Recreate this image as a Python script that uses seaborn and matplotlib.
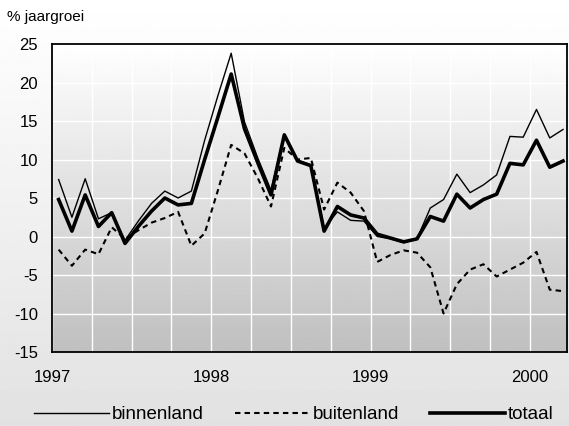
import numpy as np
import pandas as pd
import matplotlib
matplotlib.use('Agg')
import matplotlib.pyplot as plt
import seaborn as sns

plt.rcParams['font.family'] = ['Liberation Sans', 'DejaVu Sans']
plt.rcParams['axes.unicode_minus'] = False

# jaargroei per maand, jan 1997 t/m mrt 2000
jaren = ['1997', '1998', '1999', '2000']
binnenland = [7.4, 2.5, 7.5, 2.3, 3.1, -0.5, 2.0, 4.3, 5.9, 5.0, 5.9, 12.5,
              18.3, 23.8, 14.9, 10.2, 6.0, 13.2, 9.9, 9.3, 1.1, 3.2, 2.1, 2.0,
              0.0, -0.3, -0.8, -0.3, 3.7, 4.8, 8.1, 5.7, 6.7, 8.0, 13.0, 12.9,
              16.5, 12.8, 13.9]
buitenland = [-1.7, -3.8, -1.7, -2.3, 1.2, -0.3, 0.8, 1.8, 2.4, 3.2, -1.2, 0.4,
              6.0, 11.9, 10.8, 7.6, 3.9, 11.5, 10.0, 10.2, 3.5, 7.0, 5.7, 3.3,
              -3.3, -2.4, -1.8, -2.1, -4.0, -10.0, -6.2, -4.3, -3.6, -5.2, -4.3, -3.4,
              -2.0, -6.9, -7.1]
totaal = [4.8, 0.7, 5.4, 1.3, 3.1, -0.9, 1.3, 3.3, 5.0, 4.1, 4.3, 10.0,
          15.5, 21.1, 14.0, 9.6, 5.4, 13.2, 9.8, 9.2, 0.7, 3.9, 2.8, 2.4,
          0.3, -0.2, -0.7, -0.3, 2.6, 2.0, 5.5, 3.7, 4.8, 5.5, 9.5, 9.3,
          12.5, 9.0, 9.8]

# midden van elke maand
maand = np.arange(len(totaal)) + 0.5
df = pd.DataFrame({'maand': maand, 'binnenland': binnenland,
                   'buitenland': buitenland, 'totaal': totaal})

fig = plt.figure(figsize=(5.69, 4.26), dpi=100)

# lichtgrijze achtergrond met verloop
bg = fig.add_axes([0, 0, 1, 1], zorder=-10)
bg.imshow(np.linspace(1.0, 0.885, 256).reshape(-1, 1), cmap='gray', vmin=0, vmax=1,
          aspect='auto', extent=(0, 1, 0, 1))
bg.axis('off')

ax = fig.add_axes([0.0914, 0.1737, 0.9051, 0.7230])
ax.imshow(np.linspace(1.0, 0.75, 256).reshape(-1, 1), cmap='gray', vmin=0, vmax=1,
          aspect='auto', extent=(0, 1, 0, 1), transform=ax.transAxes, zorder=0)

sns.lineplot(data=df, x='maand', y='binnenland', ax=ax, color='black', lw=1.0,
             label='binnenland', zorder=3)
sns.lineplot(data=df, x='maand', y='buitenland', ax=ax, color='black', lw=1.5,
             linestyle=(0, (2.6, 2)), label='buitenland', zorder=3)
sns.lineplot(data=df, x='maand', y='totaal', ax=ax, color='black', lw=2.6,
             label='totaal', zorder=4)

ax.set_xlim(0, 38.8)
ax.set_ylim(-15, 25)
ax.set_xticks([0, 12, 24, 36], jaren)
ax.set_xticks(np.arange(0, 39, 3), minor=True)
ax.set_yticks(np.arange(-15, 26, 5))
ax.grid(True, which='both', axis='x', color='white', lw=1)
ax.grid(True, which='major', axis='y', color='white', lw=1)
ax.tick_params(which='both', length=0, labelsize=12)
ax.tick_params(axis='y', pad=10)
ax.tick_params(axis='x', pad=13)
ax.set_xlabel('')
ax.set_ylabel('')
for s in ax.spines.values():
    s.set_color('black')
    s.set_linewidth(1.3)

handles, labels = ax.get_legend_handles_labels()
ax.get_legend().remove()
fig.legend(handles, labels, loc='lower center', bbox_to_anchor=(0.516, -0.024), ncol=3,
           frameon=False, fontsize=13.5, handlelength=4.0, handletextpad=0.15,
           columnspacing=1.65, borderaxespad=0.3)

fig.text(0.012, 0.96, '% jaargroei', fontsize=11, va='center', ha='left')

fig.savefig('out.png', dpi=100)
